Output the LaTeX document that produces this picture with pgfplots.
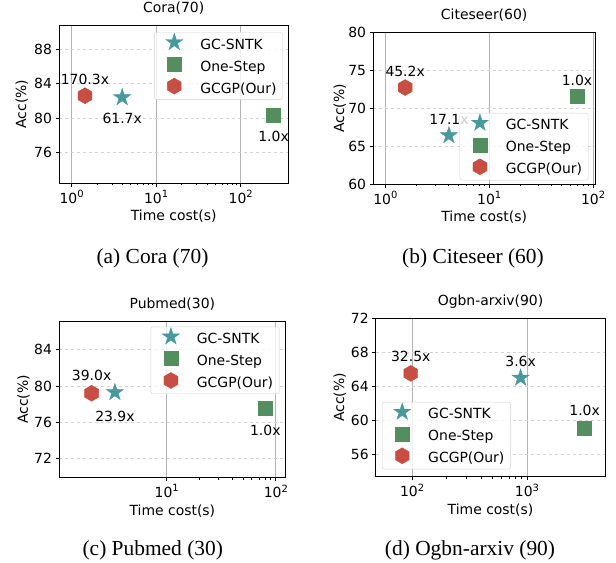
\documentclass[border=0pt]{standalone}
\usepackage{fontspec}
\setmainfont{DejaVu Sans}
\newfontfamily\capfont{Liberation Serif}
\usepackage{pgfplots}
\pgfplotsset{compat=1.18}

\definecolor{cteal}{RGB}{72,153,158}
\definecolor{cgreen}{RGB}{83,142,95}
\definecolor{cred}{RGB}{200,77,66}

\pgfdeclareplotmark{hexa}{%
  \pgfpathmoveto{\pgfpointpolar{90}{\pgfplotmarksize}}%
  \pgfpathlineto{\pgfpointpolar{150}{\pgfplotmarksize}}%
  \pgfpathlineto{\pgfpointpolar{210}{\pgfplotmarksize}}%
  \pgfpathlineto{\pgfpointpolar{270}{\pgfplotmarksize}}%
  \pgfpathlineto{\pgfpointpolar{330}{\pgfplotmarksize}}%
  \pgfpathlineto{\pgfpointpolar{30}{\pgfplotmarksize}}%
  \pgfpathclose\pgfusepathqfillstroke}
\pgfdeclareplotmark{fstar}{%
  \pgfpathmoveto{\pgfpointpolar{90}{\pgfplotmarksize}}%
  \pgfpathlineto{\pgfpointpolar{126}{0.382*\pgfplotmarksize}}%
  \pgfpathlineto{\pgfpointpolar{162}{\pgfplotmarksize}}%
  \pgfpathlineto{\pgfpointpolar{198}{0.382*\pgfplotmarksize}}%
  \pgfpathlineto{\pgfpointpolar{234}{\pgfplotmarksize}}%
  \pgfpathlineto{\pgfpointpolar{270}{0.382*\pgfplotmarksize}}%
  \pgfpathlineto{\pgfpointpolar{306}{\pgfplotmarksize}}%
  \pgfpathlineto{\pgfpointpolar{342}{0.382*\pgfplotmarksize}}%
  \pgfpathlineto{\pgfpointpolar{18}{\pgfplotmarksize}}%
  \pgfpathlineto{\pgfpointpolar{54}{0.382*\pgfplotmarksize}}%
  \pgfpathclose\pgfusepathqfillstroke}

\newcommand{\fs}{\fontsize{14}{16}\selectfont}
\newcommand{\tp}[1]{\raisebox{0.42em}{\fontsize{10}{10}\selectfont #1}}

\pgfplotsset{
  legend image code/.code={%
      \pgfpathrectanglecorners{\pgfqpoint{-14bp}{-3bp}}{\pgfqpoint{14bp}{10bp}}%
      \pgfusepath{use as bounding box}%
      \begin{pgfinterruptboundingbox}%
      \draw[#1, sharp corners, fill opacity=1, draw opacity=1] plot coordinates {(0bp,3.5bp)};%
      \end{pgfinterruptboundingbox}},
  myax/.style={
    scale only axis,
    axis line style={black, line width=0.8bp},
    tick style={black, line width=0.8bp},
    major tick length=3.5bp, minor tick length=2bp,
    tick align=outside, tick pos=left,
    xmajorgrids, ymajorgrids,
    x grid style={gray!60, line width=0.8bp},
    y grid style={dashed, gray!35, line width=0.8bp},
    tick label style={font=\fs},
    /pgf/number format/assume math mode=true,
    label style={font=\fs},
    title style={font=\fs, at={(axis description cs:0.5,1)}, anchor=center, yshift=11bp},
    xlabel style={at={(axis description cs:0.5,0)}, anchor=center, yshift=-33bp},
    xlabel={Time cost(s)}, ylabel={Acc(\%)},
    legend cell align=left,
    legend style={font=\fs, draw=gray!35, rounded corners=2bp, fill=white,
      fill opacity=0.8, text opacity=1, inner xsep=6bp, inner ysep=3.3bp,
      row sep=5.4bp, column sep=12bp,
      nodes={inner sep=0pt, text height=10bp, text depth=3bp}},
  },
  sntk/.style={only marks, mark=fstar, mark size=9bp, color=cteal},
  onestep/.style={only marks, mark=square*, mark size=7bp, color=cgreen},
  gcgp/.style={only marks, mark=hexa, mark size=8bp, color=cred},
}

\begin{document}
\begin{tikzpicture}[x=1bp,y=1bp]
\useasboundingbox (0,0) rectangle (616,563);

% (a) Cora
\begin{axis}[xmode=log, myax, at={(59bp,379.7bp)}, width=229.3bp, height=158.3bp,
  xmin=0.71, xmax=366, ymin=72.45, ymax=90.8,
  xtick={1,10,100}, xticklabels={10\tp{0},10\tp{1},10\tp{2}},
  ytick={76,80,84,88},
  title={Cora(70)},
  ylabel style={at={(axis description cs:-0.1627,0.5)}, anchor=center},
  legend style={at={(axis description cs:1,1)}, anchor=north east, xshift=-5.6bp, yshift=-7.3bp}]
\addplot[sntk] coordinates {(3.97,82.4)};
\addlegendentry{GC-SNTK}
\addplot[onestep] coordinates {(245,80.4)};
\addlegendentry{One-Step}
\addplot[gcgp] coordinates {(1.44,82.6)};
\addlegendentry{GCGP(Our)}
\node[font=\fs, yshift=16bp] at (axis cs:1.44,82.6) {170.3x};
\node[font=\fs, yshift=-21bp] at (axis cs:3.97,82.4) {61.7x};
\node[font=\fs, yshift=-21.7bp] at (axis cs:245,80.4) {1.0x};
\end{axis}

% (b) Citeseer
\begin{axis}[xmode=log, myax, at={(373bp,378.7bp)}, width=222.3bp, height=152bp,
  xmin=0.76, xmax=105, ymin=60, ymax=80,
  xtick={1,10,100}, xticklabels={10\tp{0},10\tp{1},10\tp{2}},
  ytick={60,65,70,75,80},
  title={Citeseer(60)},
  ylabel style={at={(axis description cs:-0.150,0.5)}, anchor=center},
  legend style={at={(axis description cs:1,0)}, anchor=south east, xshift=-7bp, yshift=4bp}]
\node[font=\fs, yshift=15.7bp] at (axis cs:1.55,72.73) {45.2x};
\node[font=\fs, yshift=15.7bp] at (axis cs:4.09,66.43) {17.1x};
\node[font=\fs, yshift=15.7bp] at (axis cs:70,71.63) {1.0x};
\addplot[sntk] coordinates {(4.09,66.43)};
\addlegendentry{GC-SNTK}
\addplot[onestep] coordinates {(70,71.63)};
\addlegendentry{One-Step}
\addplot[gcgp] coordinates {(1.55,72.73)};
\addlegendentry{GCGP(Our)}
\end{axis}

% (c) Pubmed
\begin{axis}[xmode=log, myax, at={(59bp,85.3bp)}, width=226.7bp, height=156.7bp,
  xmin=1.03, xmax=123, ymin=69.85, ymax=87.2,
  xtick={10,100}, xticklabels={10\tp{1},10\tp{2}},
  ytick={72,76,80,84},
  title={Pubmed(30)},
  ylabel style={at={(axis description cs:-0.157,0.5)}, anchor=center},
  legend style={at={(axis description cs:1,1)}, anchor=north east, xshift=-6.4bp, yshift=-5.7bp}]
\addplot[sntk] coordinates {(3.35,79.3)};
\addlegendentry{GC-SNTK}
\addplot[onestep] coordinates {(80,77.6)};
\addlegendentry{One-Step}
\addplot[gcgp] coordinates {(2.05,79.2)};
\addlegendentry{GCGP(Our)}
\node[font=\fs, yshift=18.3bp] at (axis cs:2.05,79.2) {39.0x};
\node[font=\fs, yshift=-23.7bp] at (axis cs:3.35,79.3) {23.9x};
\node[font=\fs, yshift=-23bp] at (axis cs:80,77.6) {1.0x};
\end{axis}

% (d) Ogbn-arxiv
\begin{axis}[xmode=log, myax, at={(375.7bp,86.3bp)}, width=229.6bp, height=158.4bp,
  xmin=48.3, xmax=4800, ymin=53.4, ymax=72,
  xtick={100,1000}, xticklabels={10\tp{2},10\tp{3}},
  ytick={56,60,64,68,72},
  title={Ogbn-arxiv(90)},
  ylabel style={at={(axis description cs:-0.157,0.5)}, anchor=center},
  legend style={at={(axis description cs:0,0)}, anchor=south west, xshift=6.3bp, yshift=7.4bp}]
\addplot[sntk] coordinates {(880,65.0)};
\addlegendentry{GC-SNTK}
\addplot[onestep] coordinates {(3170,59.13)};
\addlegendentry{One-Step}
\addplot[gcgp] coordinates {(97.5,65.53)};
\addlegendentry{GCGP(Our)}
\node[font=\fs, yshift=17.3bp] at (axis cs:97.5,65.53) {32.5x};
\node[font=\fs, yshift=16.7bp] at (axis cs:880,65.0) {3.6x};
\node[font=\fs, yshift=17.7bp] at (axis cs:3170,59.13) {1.0x};
\end{axis}

\node[font=\capfont\fontsize{21.5}{24}\selectfont] at (152.5,305) {(a) Cora (70)};
\node[font=\capfont\fontsize{21.5}{24}\selectfont] at (473,305) {(b) Citeseer (60)};
\node[font=\capfont\fontsize{21.5}{24}\selectfont] at (152.8,13) {(c) Pubmed (30)};
\node[font=\capfont\fontsize{21.5}{24}\selectfont] at (470,13) {(d) Ogbn-arxiv (90)};
\end{tikzpicture}
\end{document}
